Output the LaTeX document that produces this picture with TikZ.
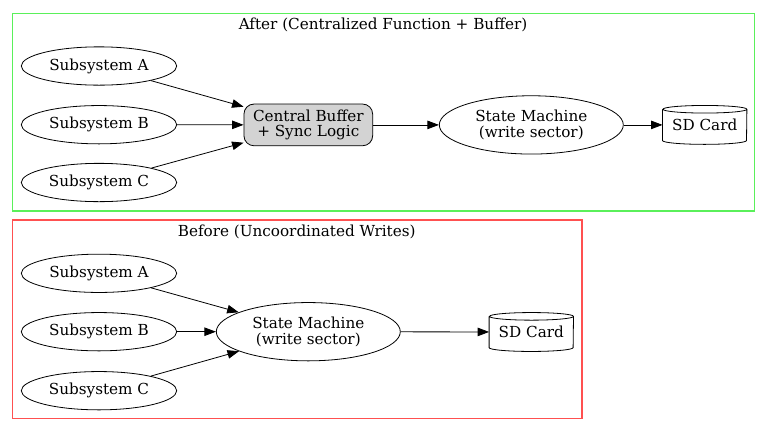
\documentclass[tikz,border=0pt]{standalone}
\usepackage{fontspec}
\setmainfont{DejaVu Serif}
\usetikzlibrary{shapes.geometric,arrows.meta}
\definecolor{clgreen}{RGB}{90,240,90}
\definecolor{clred}{RGB}{255,80,80}
\definecolor{bufgray}{RGB}{211,211,211}
\newcommand{\cylout}[1]{\draw[line width=0.8pt] ([yshift=-3.8pt]#1.north west) -- ([yshift=3.8pt]#1.south west) arc[start angle=180,end angle=360,x radius=42pt,y radius=3.8pt] -- ([yshift=-3.8pt]#1.north east) arc[start angle=0,end angle=180,x radius=42pt,y radius=3.8pt] arc[start angle=180,end angle=360,x radius=42pt,y radius=3.8pt];}
\begin{document}
\begin{tikzpicture}[x=1pt,y=-1pt,
 every node/.style={font=\fontsize{15.2}{15.9}\selectfont, align=center, inner sep=0pt},
 subsys/.style={ellipse, draw, line width=0.8pt, minimum width=155.4pt, minimum height=38.3pt},
 smach/.style={ellipse, draw, line width=0.8pt, minimum width=184pt, minimum height=58.3pt},
 bufbox/.style={rectangle, rounded corners=10pt, draw, line width=0.8pt, fill=bufgray, minimum width=128.7pt, minimum height=41.7pt},
 sdcard/.style={rectangle, minimum width=84pt, minimum height=38.5pt},
 conn/.style={-{Triangle[length=11.5pt,width=8.5pt]}, line width=0.8pt},
 cluster/.style={line width=1.5pt}]
\useasboundingbox (0,0) rectangle (768,432);
% After cluster
\draw[cluster, draw=clgreen] (12.7,13.3) rectangle (754.3,211);
\node (aftertitle) at (383,25) {After (Centralized Function + Buffer)};
\node[subsys] (aA) at (99,66) {Subsystem A};
\node[subsys] (aB) at (99,124.7) {Subsystem B};
\node[subsys] (aC) at (99,182.5) {Subsystem C};
\node[bufbox] (abuf) at (308.3,124.9) {Central Buffer\\+ Sync Logic};
\node[smach] (asm) at (531.3,124.9) {State Machine\\(write sector)};
\node[sdcard] (asd) at (704.7,124.9) {SD Card};
\cylout{asd}
\draw[conn] (aA) -- (abuf);
\draw[conn] (aB) -- (abuf);
\draw[conn] (aC) -- (abuf);
\draw[conn] (abuf) -- (asm);
\draw[conn] (asm) -- (asd);
% Before cluster
\draw[cluster, draw=clred] (12.7,220) rectangle (582,418.7);
\node (beforetitle) at (296.7,231.7) {Before (Uncoordinated Writes)};
\node[subsys] (bA) at (99,273.3) {Subsystem A};
\node[subsys] (bB) at (99,331.7) {Subsystem B};
\node[subsys] (bC) at (99,390.7) {Subsystem C};
\node[smach] (bsm) at (308.3,331.7) {State Machine\\(write sector)};
\node[sdcard] (bsd) at (531.3,332) {SD Card};
\cylout{bsd}
\draw[conn] (bA) -- (bsm);
\draw[conn] (bB) -- (bsm);
\draw[conn] (bC) -- (bsm);
\draw[conn] (bsm) -- (bsd);
\end{tikzpicture}
\end{document}
